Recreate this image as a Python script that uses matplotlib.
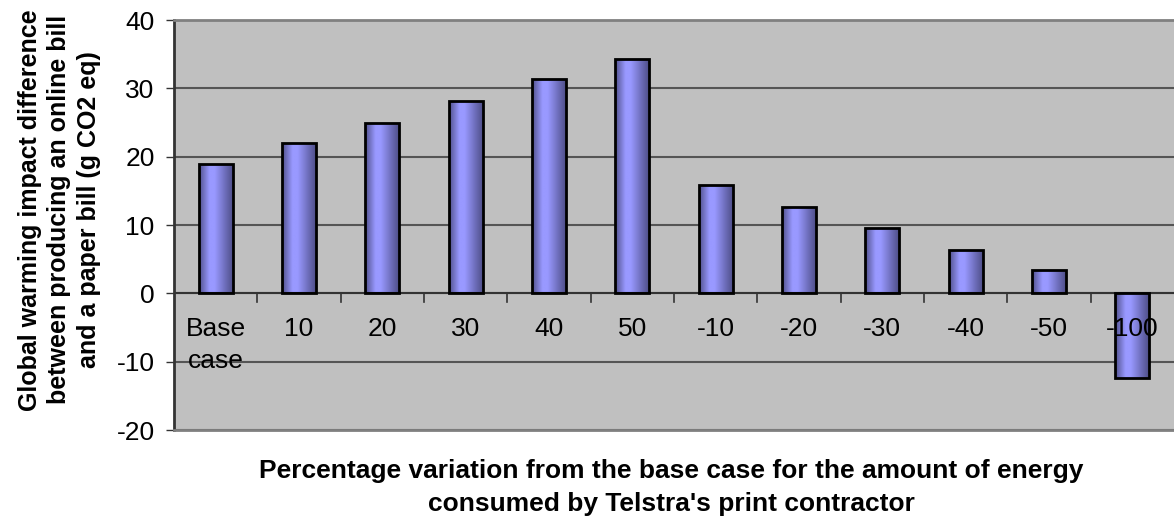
import numpy as np
import matplotlib
matplotlib.use("Agg")
import matplotlib.pyplot as plt
from matplotlib.colors import LinearSegmentedColormap

categories = ["Base\ncase", "10", "20", "30", "40", "50", "-10", "-20", "-30", "-40", "-50", "-100"]
values = [18.9, 22.0, 25.0, 28.1, 31.3, 34.3, 15.8, 12.7, 9.6, 6.4, 3.4, -12.4]
yticks = [-20, -10, 0, 10, 20, 30, 40]

plt.rcParams['font.family'] = ['Liberation Sans', 'DejaVu Sans']

W, H = 1174, 521
fig = plt.figure(figsize=(W / 100, H / 100), dpi=100)
ax = fig.add_axes([174 / W, (H - 430) / H, 1 - 174 / W, 410 / H])
ax.set_facecolor("#C0C0C0")

x = np.arange(len(categories))
bars = ax.bar(x, values, width=0.41, facecolor="none", edgecolor="black", linewidth=2, zorder=3)

cmap = LinearSegmentedColormap.from_list(
    "g", [(0.0, "#4F4F8A"), (0.3, "#9999FF"), (0.45, "#9999FF"), (1.0, "#4A4A82")])
grad = np.linspace(0, 1, 256).reshape(1, -1)
for b in bars:
    x0, y0 = b.get_x(), b.get_y()
    w, h = b.get_width(), b.get_height()
    im = ax.imshow(grad, cmap=cmap, aspect="auto",
                   extent=(x0, x0 + w, min(y0, y0 + h), max(y0, y0 + h)),
                   zorder=2, interpolation="bilinear")
    im.set_clip_path(b)

ax.set_xlim(-0.5, len(categories) - 0.5)
ax.set_ylim(-20, 40)
ax.set_yticks(yticks)
ax.set_yticklabels([str(v) for v in yticks], fontsize=19)
ax.yaxis.grid(True, color="#555555", linewidth=1.5, zorder=1)
ax.set_axisbelow(True)

ax.spines["right"].set_visible(False)
ax.spines["top"].set_color("#808080")
ax.spines["top"].set_linewidth(2)
ax.spines["bottom"].set_color("#808080")
ax.spines["bottom"].set_linewidth(2)
ax.spines["left"].set_color("#333333")
ax.spines["left"].set_linewidth(2)
ax.tick_params(axis="y", length=6, width=1, color="#333333", pad=8)

# x axis at zero: ticks at category boundaries
ax.set_xticks([])
ax.axhline(0, color="#333333", linewidth=1.5, zorder=2.5)
for i in range(1, len(categories)):
    ax.plot([i - 0.5, i - 0.5], [0, -1.2], color="#333333", linewidth=1.2, zorder=2.5, clip_on=False)
for i, c in enumerate(categories):
    ax.text(i, -3.5, c, ha="center", va="top", fontsize=19, zorder=5, linespacing=1.4)

ax.set_ylabel("Global warming impact difference\nbetween producing an online bill\nand a paper bill (g CO2 eq)",
              fontsize=18, fontweight="bold", linespacing=1.3)
ax.yaxis.set_label_coords(-0.073, 0.537)
fig.text(0.572, 0.064, "Percentage variation from the base case for the amount of energy\nconsumed by Telstra's print contractor",
         ha="center", va="center", fontsize=19, fontweight="bold", linespacing=1.45)

fig.savefig("out.png", dpi=100)
